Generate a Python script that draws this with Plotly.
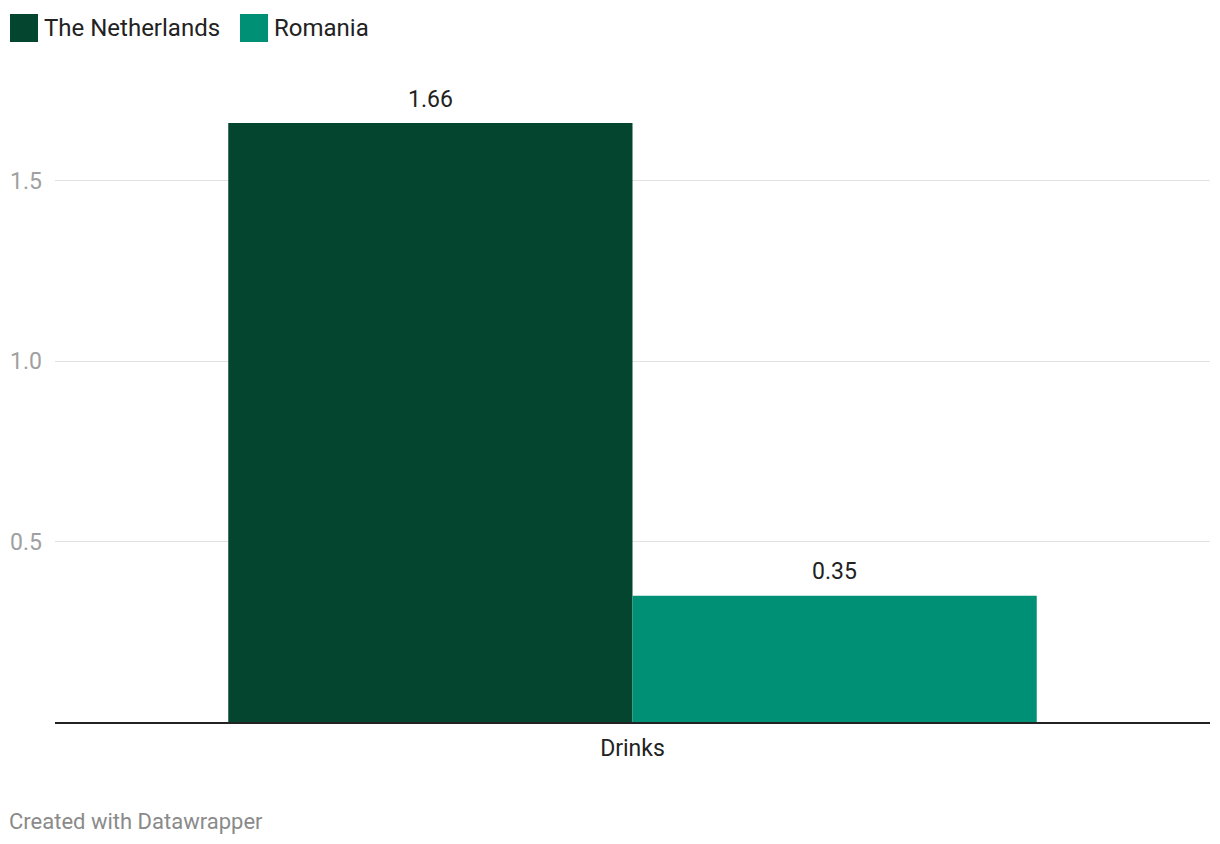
import plotly.graph_objects as go

categories = ["Drinks"]
series_names = ["The Netherlands", "Romania"]
netherlands = [1.66]
romania = [0.35]
tick_vals = [0.5, 1.0, 1.5]
tick_text = ["0.5", "1.0", "1.5"]

colors = ["#03452f", "#009076"]
FONT = "Roboto"

fig = go.Figure()
series = [netherlands, romania]
for name, vals, col in zip(series_names, series, colors):
    fig.add_trace(go.Bar(
        x=categories, y=vals, name=name,
        marker=dict(color=col, line=dict(width=0)),
        showlegend=False,
    ))

# value labels above each bar (bars in a group: width 0.35 each, offsets -/+0.175)
offsets = [-0.175, 0.175]
for off, vals in zip(offsets, series):
    for i, v in enumerate(vals):
        fig.add_annotation(x=i + off, y=v, xref="x", yref="y",
                           text=f"{v:.2f}", showarrow=False,
                           xanchor="center", yanchor="middle", yshift=24,
                           font=dict(family=FONT, size=23, color="#222222"))

fig.update_layout(
    width=1212, height=836,
    margin=dict(l=47, r=10, t=115, b=122, autoexpand=False),
    paper_bgcolor="white", plot_bgcolor="white",
    barmode="group", bargap=0.3, bargroupgap=0,
    font=dict(family=FONT),
    showlegend=False,
    xaxis=dict(
        showline=True, linecolor="#222222", linewidth=2,
        tickfont=dict(family=FONT, size=23, color="#222222"),
        ticks="", showgrid=False, automargin=False,
        ticklabelstandoff=4,
    ),
    yaxis=dict(
        range=[0, 1.66], tickvals=tick_vals, ticktext=tick_text,
        showgrid=True, gridcolor="#e2e2e2", gridwidth=1,
        zeroline=False, showline=False, ticks="",
        tickfont=dict(family=FONT, size=23, color="#a0a0a0"),
        ticklabelstandoff=12, automargin=False,
    ),
)

def px(xr):
    return (xr - 55) / 1155

def py(yr):
    return (722 - yr) / 599

# legend drawn as shapes + text
legend_items = [(10, series_names[0], colors[0]), (240, series_names[1], colors[1])]
for x0, name, col in legend_items:
    fig.add_shape(type="rect", xref="paper", yref="paper",
                  x0=px(x0), x1=px(x0 + 28), y0=py(42), y1=py(14),
                  fillcolor=col, line=dict(width=0))
    fig.add_annotation(xref="paper", yref="paper",
                       x=px(x0 + 32), y=py(28),
                       xanchor="left", yanchor="middle", showarrow=False,
                       text=name, font=dict(family=FONT, size=24, color="#222222"))

fig.add_annotation(xref="paper", yref="paper",
                   x=px(7), y=py(821),
                   xanchor="left", yanchor="middle", showarrow=False,
                   text="Created with Datawrapper",
                   font=dict(family=FONT, size=22, color="#8a8a8a"))

fig.write_html("out.html")
